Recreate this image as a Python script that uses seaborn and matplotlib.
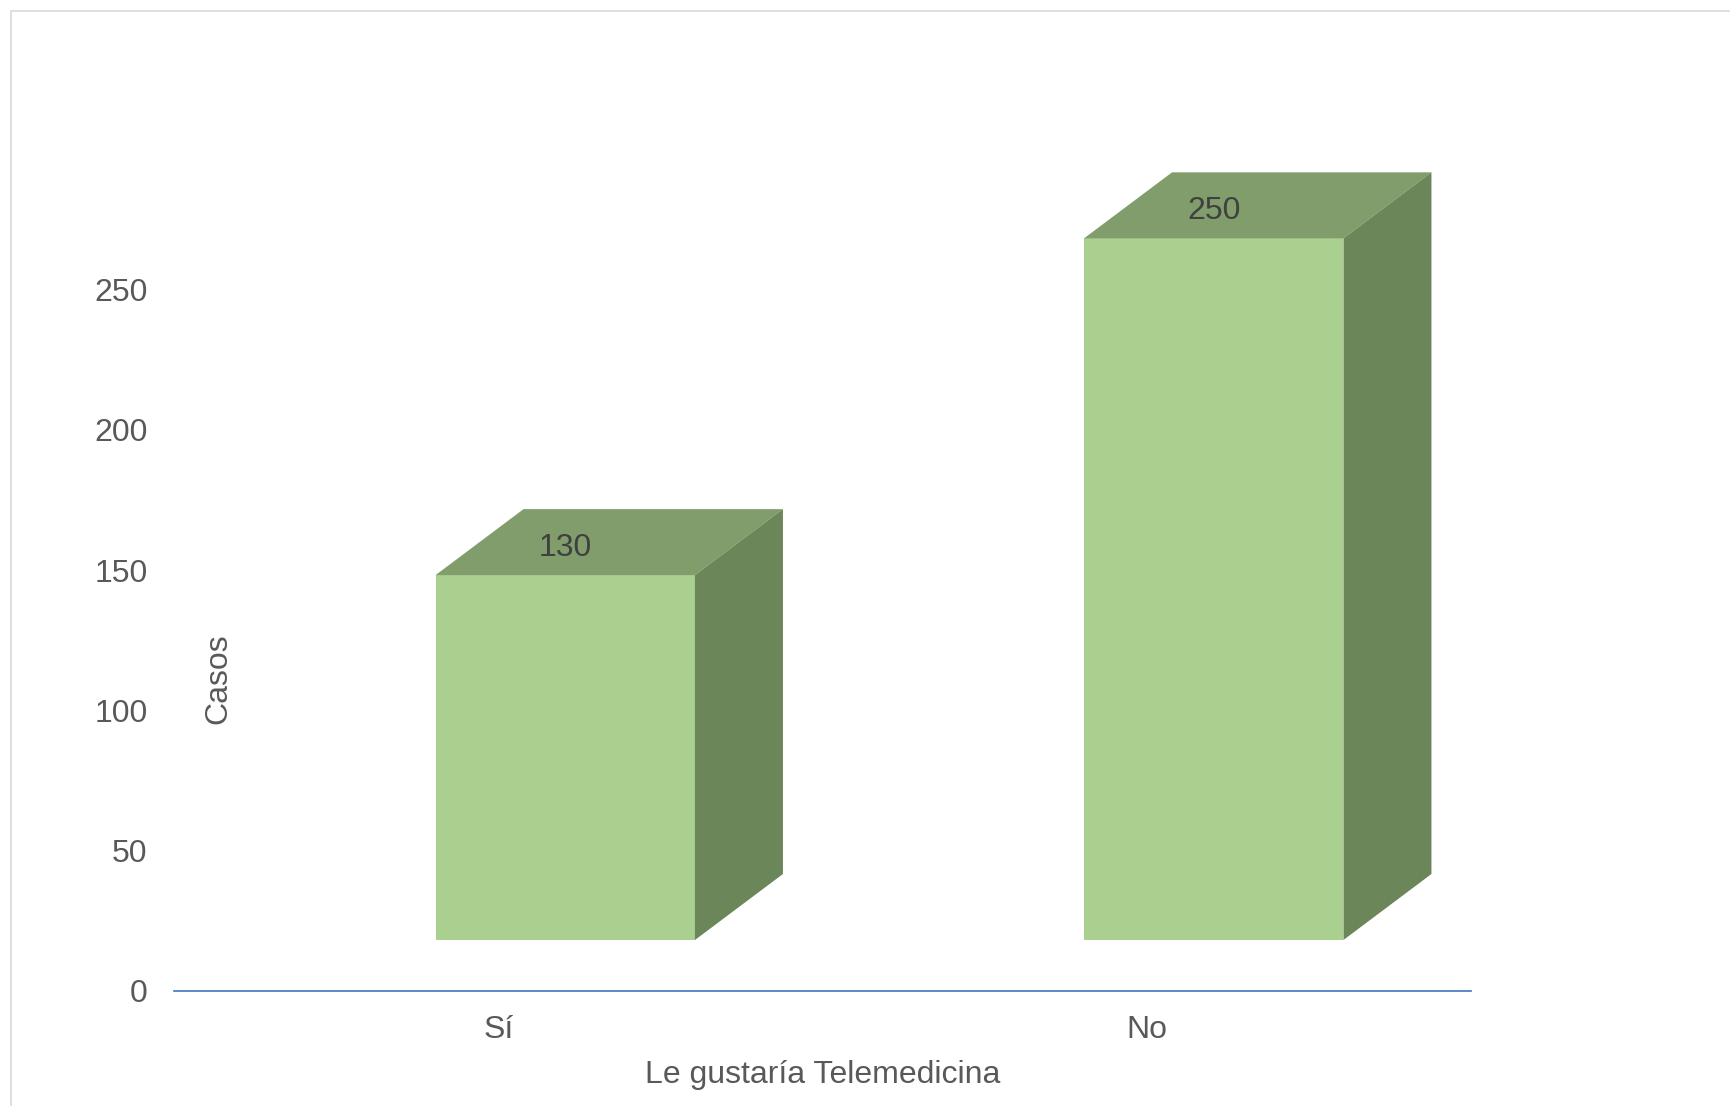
import matplotlib
matplotlib.use("Agg")
import matplotlib.pyplot as plt
import matplotlib.transforms as mtransforms
from matplotlib.patches import Polygon, Rectangle
import seaborn as sns
import pandas as pd

# Survey answers and counts
categories = ["Sí", "No"]
casos = [130, 250]
y_ticks = [0, 50, 100, 150, 200, 250]
x_title = "Le gustaría Telemedicina"
y_title = "Casos"

FRONT = "#A9D08E"
TOP = "#809D6B"
SIDE = "#6B8659"
TEXT = "#595959"
LABEL = "#404040"
FS = 23

sns.set_style("white")
plt.rcParams["font.family"] = ["Liberation Sans", "DejaVu Sans"]

W, H = 1730, 1106
fig = plt.figure(figsize=(W / 100, H / 100), dpi=100)
ax = fig.add_axes([174 / W, (H - 991) / H, 1297 / W, 842 / H])

df = pd.DataFrame({"respuesta": categories, "casos": casos})
sns.barplot(data=df, x="respuesta", y="casos", color=FRONT, saturation=1,
            width=0.4, ax=ax, zorder=2, linewidth=0)
ax.set_xlim(-0.5, 1.5)
ax.set_ylim(0, 300)
ax.set_yticks(y_ticks)

# Bars sit on a plane set back from the floor edge (pixel shift)
plane_dx, plane_dy = 67, 51
shift = mtransforms.ScaledTranslation(plane_dx / 100, plane_dy / 100, fig.dpi_scale_trans)
bar_trans = ax.transData + shift

# Depth of the boxes in pixels, converted to data units
depth_px_x, depth_px_y = 88, 66
p0 = ax.transData.transform((0, 0))
p1 = ax.transData.transform((1, 1))
ddx = depth_px_x / (p1[0] - p0[0])
ddy = depth_px_y / (p1[1] - p0[1])

bars = list(ax.patches)
for p in bars:
    p.set_transform(bar_trans)
    x0, w, h = p.get_x(), p.get_width(), p.get_height()
    top = Polygon([(x0, h), (x0 + w, h), (x0 + w + ddx, h + ddy), (x0 + ddx, h + ddy)],
                  closed=True, facecolor=TOP, edgecolor="none", transform=bar_trans, zorder=2)
    side = Polygon([(x0 + w, 0), (x0 + w + ddx, ddy), (x0 + w + ddx, h + ddy), (x0 + w, h)],
                   closed=True, facecolor=SIDE, edgecolor="none", transform=bar_trans, zorder=2)
    ax.add_patch(top)
    ax.add_patch(side)

for p, v in zip(bars, casos):
    ax.annotate(str(v), xy=(p.get_x() + p.get_width() / 2, v),
                xytext=(plane_dx, plane_dy + 27), textcoords="offset pixels",
                ha="center", va="center", fontsize=FS, color=LABEL, zorder=3)

for s in ["left", "top", "right"]:
    ax.spines[s].set_visible(False)
ax.spines["bottom"].set_color("#4472C4")
ax.spines["bottom"].set_linewidth(1.2)

ax.tick_params(axis="both", length=0, labelsize=FS, labelcolor=TEXT)
ax.tick_params(axis="y", pad=19)
ax.tick_params(axis="x", pad=17.5)

ax.set_xlabel(x_title, fontsize=FS, color=TEXT)
ax.xaxis.set_label_coords(0.5, (991 - 1075) / 842)
ax.xaxis.label.set_va("center")
ax.set_ylabel(y_title, fontsize=FS, color=TEXT)
ax.yaxis.set_label_coords((218.5 - 174) / 1297, (991 - 678.5) / 842)
ax.yaxis.label.set_va("center")
ax.yaxis.label.set_ha("center")

# Chart frame
fig.add_artist(Rectangle((11 / W, -0.05), 1.2, (H - 11) / H + 0.05,
                         transform=fig.transFigure, fill=False,
                         edgecolor="#D9D9D9", linewidth=1.2))

fig.savefig("out.png", dpi=100)
